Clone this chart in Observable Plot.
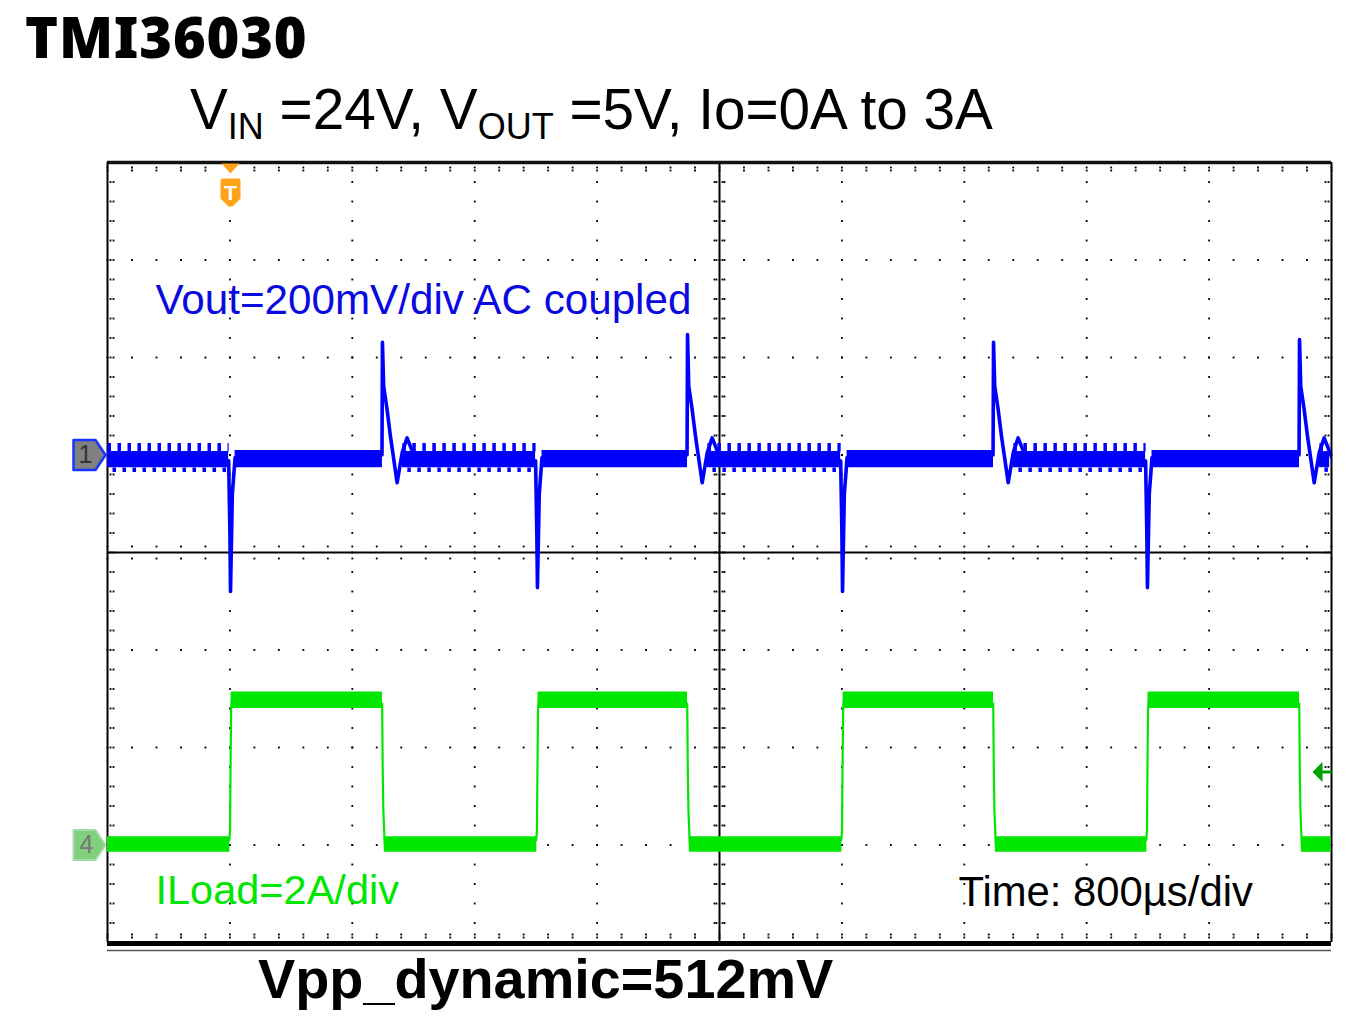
<!DOCTYPE html>
<html><head><meta charset="utf-8">
<script src="https://cdn.jsdelivr.net/npm/d3@7"></script>
<script src="https://cdn.jsdelivr.net/npm/@observablehq/plot@0.6"></script>
<style>
html,body{margin:0;padding:0;background:#fff}
body{width:1346px;height:1017px;position:relative;overflow:hidden;font-family:"Liberation Sans",Arial,sans-serif;color:#000}
#title{position:absolute;left:25px;top:8px;font-family:"Noto Sans",sans-serif;font-weight:900;font-size:56px;line-height:1;letter-spacing:0.8px;white-space:nowrap}
#subtitle{position:absolute;left:190px;top:82px;font-size:56.7px;line-height:1;white-space:nowrap}
#subtitle .sub{font-size:36px;vertical-align:-10px}
#chart{position:absolute;left:0;top:140px}
#caption{position:absolute;left:258px;top:951px;font-weight:bold;font-size:55.8px;line-height:1;white-space:nowrap}
</style></head>
<body>
<div id="title">TMI36030</div>
<div id="subtitle">V<span class="sub">IN</span> =24V, V<span class="sub">OUT</span> =5V, Io=0A to 3A</div>
<div id="chart"></div>
<div id="caption">Vpp_dynamic=512mV</div>
<script>
// ---- scope settings ----
const usPerDiv = 800;          // Time: 800µs/div
const vScale = 200;            // Vout: 200 mV/div
const iScale = 2;              // ILoad: 2 A/div
const ch1Offset = 1;           // divisions
const ch4Offset = -3;          // divisions
const tEnd = 8000;             // µs (10 divisions)
const triggerTime = 804;       // µs
const triggerLevelA = 1.5;     // A

// ---- load steps (µs) ----
const loadRiseTimes = [804, 2810, 4804, 6797];
const loadFallTimes = [1797, 3791, 5791, 7791];
const loadLowA = 0;
const loadHighA = 3;

// ---- Vout transients (mV) ----
const undershootMV = [-280, -272, -280, -272];
const overshootMV = [231, 247, 231, 237];
// shape of each transient: time offset (µs) and mV (null = event peak)
const undershootDt = [-12, -4, 0, 12, 30];
const undershootMv = [-12, -160, null, -80, -5];
const overshootDt = [-3, 0, 8, 30, 52, 96, 129, 161, 216];
const overshootMv = [0, null, 141, 94, 39, -57, 5, 35, -9];

// ---- noise bands ----
const lightBandMV = [-26, 7];     // core of ripple band at 0 A
const lightTeethTopMV = 16;       // ripple teeth (light load)
const lightTeethBotMV = -30;
const heavyBandMV = [-26, 9];     // band at 3 A
const lowBandA = [-0.15, 0.17];
const highBandA = [2.8, 3.14];

// current edges: time offset (µs), A
const riseDt = [-8, -3, 0, 4, 10];
const riseA = [0.1, 0.3, 1.5, 2.8, 3.0];
const fallDt = [-2, 2, 6, 15, 30];
const fallA = [2.9, 1.5, 0.7, 0.0, -0.1];

// ---- derived tables ----
const vy = mv => ch1Offset + mv / vScale;
const iy = a => ch4Offset + a / iScale;

const lightIntervals = [], heavyIntervals = [];
let prev = 0;
loadRiseTimes.forEach((r, k) => {
  lightIntervals.push([prev, r]);
  heavyIntervals.push([r, loadFallTimes[k]]);
  prev = loadFallTimes[k];
});
lightIntervals.push([prev, tEnd]);

const voutBand = [], teeth = [];
lightIntervals.forEach(([a, b], k) => {
  const s = k === 0 ? a : a + 130, e = b - 12;
  voutBand.push({seg: "L" + k, t: s, lo: lightBandMV[0], hi: lightBandMV[1]},
                {seg: "L" + k, t: e, lo: lightBandMV[0], hi: lightBandMV[1]});
  teeth.push({seg: "L" + k, t: s}, {seg: "L" + k, t: e});
});
heavyIntervals.forEach(([a, b], k) => {
  voutBand.push({seg: "H" + k, t: a + 30, lo: heavyBandMV[0], hi: heavyBandMV[1]},
                {seg: "H" + k, t: b, lo: heavyBandMV[0], hi: heavyBandMV[1]});
});

const voutTrans = [];
loadRiseTimes.forEach((t0, k) => undershootDt.forEach((dt, i) =>
  voutTrans.push({ev: "U" + k, t: t0 + dt, mv: undershootMv[i] ?? undershootMV[k]})));
loadFallTimes.forEach((t1, k) => overshootDt.forEach((dt, i) =>
  voutTrans.push({ev: "O" + k, t: t1 + dt, mv: overshootMv[i] ?? overshootMV[k]})));

const iBand = [];
lightIntervals.forEach(([a, b], k) => {
  const s = k === 0 ? a : a + 12, e = b - 4;
  iBand.push({seg: "L" + k, t: s, lo: lowBandA[0], hi: lowBandA[1]},
             {seg: "L" + k, t: e, lo: lowBandA[0], hi: lowBandA[1]});
});
heavyIntervals.forEach(([a, b], k) => {
  iBand.push({seg: "H" + k, t: a + 4, lo: highBandA[0], hi: highBandA[1]},
             {seg: "H" + k, t: b, lo: highBandA[0], hi: highBandA[1]});
});
const iEdges = [];
loadRiseTimes.forEach((t0, k) => riseDt.forEach((dt, i) => iEdges.push({ev: "R" + k, t: t0 + dt, a: riseA[i]})));
loadFallTimes.forEach((t1, k) => fallDt.forEach((dt, i) => iEdges.push({ev: "F" + k, t: t1 + dt, a: fallA[i]})));

// ---- graticule ----
const minorX = d3.range(0, tEnd + 1, usPerDiv / 5);
const minorY = d3.range(-20, 21).map(d => d / 5);
const majorXInner = d3.range(1, 10).filter(d => d !== 5).map(d => d * usPerDiv);
const majorYInner = [-3, -2, -1, 1, 2, 3];
const gridDotsV = majorXInner.flatMap(x => minorY.map(y => ({x, y})));
const gridDotsH = majorYInner.flatMap(y => minorX.map(x => ({x, y})));

// ---- custom symbols ----
const pentagon = {draw(c) { c.moveTo(-34, -15); c.lineTo(-12, -15); c.lineTo(-2, 0); c.lineTo(-12, 15); c.lineTo(-34, 15); c.closePath(); }};
const trigTri = {draw(c) { c.moveTo(-9, -5); c.lineTo(9, -5); c.lineTo(0, 5); c.closePath(); }};
const shield = {draw(c) { c.moveTo(-8, -14); c.lineTo(8, -14); c.quadraticCurveTo(10, -14, 10, -11); c.lineTo(10, 6); c.lineTo(2, 14); c.lineTo(-2, 14); c.lineTo(-10, 6); c.lineTo(-10, -11); c.quadraticCurveTo(-10, -14, -8, -14); c.closePath(); }};
const levelArrow = {draw(c) { c.moveTo(-19, 0); c.lineTo(-9, -10); c.lineTo(-9, -1.5); c.lineTo(0, -1.5); c.lineTo(0, 1.5); c.lineTo(-9, 1.5); c.lineTo(-9, 10); c.closePath(); }};

const dot = (data, opts) => Plot.dot(data, {symbol: "square", r: 1.05, fill: "#000", stroke: null, ...opts});
const blue = "#0000ff", green = "#00e600";

const chart = Plot.plot({
  width: 1346, height: 820,
  marginTop: 22, marginBottom: 18, marginLeft: 107, marginRight: 15,
  x: {domain: [0, tEnd], axis: null},
  y: {domain: [-4, 4], axis: null},
  style: {background: "#fff", overflow: "visible"},
  marks: [
    // graticule dots
    dot(gridDotsV, {x: "x", y: "y"}),
    dot(gridDotsH, {x: "x", y: "y"}),
    // center axes with ticks
    Plot.ruleX([tEnd / 2], {stroke: "#000", strokeWidth: 2}),
    Plot.ruleY([0], {stroke: "#000", strokeWidth: 2}),
    ...[-5, -3, 3, 5].map(dx => dot(minorY, {x: () => tEnd / 2, y: d => d, dx})),
    ...[-6, 6].map(dy => dot(minorX, {x: d => d, y: () => 0, dy})),
    // edge ticks
    ...[5, 8].map(dy => dot(minorX, {x: d => d, y: () => 4, dy})),
    ...[-5, -8].map(dy => dot(minorX, {x: d => d, y: () => -4, dy})),
    ...[3, 6].map(dx => dot(minorY, {x: () => 0, y: d => d, dx})),
    ...[-3, -6].map(dx => dot(minorY, {x: () => tEnd, y: d => d, dx})),
    // frame
    Plot.ruleY([4], {stroke: "#111", strokeWidth: 3.5}),
    Plot.ruleY([-4], {stroke: "#000", strokeWidth: 5, dy: 1}),
    Plot.ruleY([-4], {stroke: "#555", strokeWidth: 1.5, dy: 8}),
    Plot.ruleX([0, tEnd], {stroke: "#000", strokeWidth: 2}),

    // current trace (CH4)
    Plot.areaY(iBand, {x: "t", y1: d => iy(d.lo), y2: d => iy(d.hi), z: "seg", fill: green, clip: true}),
    Plot.line(iEdges, {x: "t", y: d => iy(d.a), z: "ev", stroke: green, strokeWidth: 2.2, clip: true}),

    // Vout trace (CH1)
    Plot.areaY(voutBand, {x: "t", y1: d => vy(d.lo), y2: d => vy(d.hi), z: "seg", fill: blue, clip: true}),
    Plot.line(teeth, {x: "t", y: () => vy(lightTeethTopMV), z: "seg", stroke: blue, strokeWidth: 8.5, strokeLinecap: "butt", strokeDasharray: "3.5,6.5", clip: true}),
    Plot.line(teeth, {x: "t", y: () => vy(lightTeethBotMV), z: "seg", stroke: blue, strokeWidth: 4.5, strokeLinecap: "butt", strokeDasharray: "3.5,6.5", strokeDashoffset: 5, clip: true}),
    Plot.line(voutTrans, {x: "t", y: d => vy(d.mv), z: "ev", stroke: blue, strokeWidth: 3.6, strokeLinejoin: "round", clip: true}),

    // channel markers
    Plot.dot([0], {x: () => 0, y: () => ch1Offset, symbol: pentagon, fill: "#808080", stroke: "#1a35ff", strokeWidth: 2.5, strokeLinejoin: "round"}),
    Plot.text(["1"], {x: () => 0, y: () => ch1Offset, dx: -22, fontSize: 25, fill: "#333", fontFamily: "Liberation Sans"}),
    Plot.dot([0], {x: () => 0, y: () => ch4Offset, symbol: pentagon, fill: "#7fcf7f", stroke: "#a4dca4", strokeWidth: 2, strokeLinejoin: "round"}),
    Plot.text(["4"], {x: () => 0, y: () => ch4Offset, dx: -21, fontSize: 25, fill: "#777", fontFamily: "Liberation Sans"}),
    // trigger marker
    Plot.dot([triggerTime], {x: d => d, y: () => 4, dy: 6, symbol: trigTri, fill: "#ffa31a", stroke: null}),
    Plot.dot([triggerTime], {x: d => d, y: () => 4, dy: 30, symbol: shield, fill: "#ffa31a", stroke: null}),
    Plot.text(["T"], {x: () => triggerTime, y: () => 4, dy: 31, fontSize: 21, fontWeight: "bold", fill: "#fff", fontFamily: "Liberation Sans"}),
    // CH4 trigger level arrow
    Plot.dot([triggerLevelA], {x: () => tEnd, y: d => iy(d), symbol: levelArrow, fill: "#00a300", stroke: null}),

    // annotations
    Plot.text(["Vout=200mV/div AC coupled"], {frameAnchor: "top-left", dx: 48, dy: 151, textAnchor: "start", lineAnchor: "bottom", fontSize: 42.2, fill: "#0a0ae0", fontFamily: "Liberation Sans"}),
    Plot.text(["ILoad=2A/div"], {frameAnchor: "bottom-left", dx: 48, dy: -39, textAnchor: "start", lineAnchor: "bottom", fontSize: 41.5, fill: green, fontFamily: "Liberation Sans"}),
    Plot.text(["Time: 800µs/div"], {frameAnchor: "bottom-left", dx: 851, dy: -37, textAnchor: "start", lineAnchor: "bottom", fontSize: 41.8, fill: "#000", fontFamily: "Liberation Sans"})
  ]
});
document.getElementById("chart").appendChild(chart);
</script>
</body></html>
